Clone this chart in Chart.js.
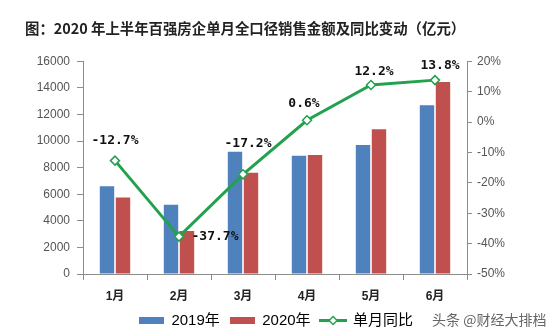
<!DOCTYPE html>
<html>
<head>
<meta charset="utf-8">
<script src="https://cdn.jsdelivr.net/npm/chart.js@4.4.1/dist/chart.umd.min.js"></script>
<style>
  html, body { margin: 0; padding: 0; background: #fff; }
  canvas { display: block; }
</style>
</head>
<body>
<canvas id="salesChart" width="558" height="331"></canvas>
<script>
// categories and series
const months = ['1月', '2月', '3月', '4月', '5月', '6月'];
const sales2019 = [6600, 5200, 9200, 8900, 9700, 12700];
const sales2020 = [5760, 3240, 7620, 8950, 10880, 14450];
const yoyChange = [-12.7, -37.7, -17.2, 0.6, 12.2, 13.8];

const leftTicks = [0, 2000, 4000, 6000, 8000, 10000, 12000, 14000, 16000];
const rightTicks = [-50, -40, -30, -20, -10, 0, 10, 20];

const BLUE = '#4f81bd';
const RED = '#c0504d';
const GREEN = '#22a24e';
const AXIS = '#8c8c8c';
const FONT = '"Liberation Sans", Arial, "Noto Sans CJK SC", sans-serif';

// legend swatches
function swatch(color) {
    const c = document.createElement('canvas');
    c.width = 25; c.height = 7;
    const g = c.getContext('2d');
    g.fillStyle = color;
    g.fillRect(0, 0, 25, 7);
    return c;
}
function lineSwatch(color) {
    const c = document.createElement('canvas');
    c.width = 28; c.height = 11;
    const g = c.getContext('2d');
    g.strokeStyle = color;
    g.lineWidth = 3;
    g.beginPath(); g.moveTo(0, 5.5); g.lineTo(28, 5.5); g.stroke();
    g.fillStyle = '#fff';
    g.lineWidth = 1.5;
    g.beginPath();
    g.moveTo(14, 1.5); g.lineTo(18, 5.5); g.lineTo(14, 9.5); g.lineTo(10, 5.5); g.closePath();
    g.fill(); g.stroke();
    return c;
}

// value labels on the line, nudged off the markers
const labelNudge = [[0, -20], [36, 0], [5, -31], [-3, -17], [3, -13], [5, -14]];
const yoyLabels = {
    id: 'yoyLabels',
    afterDatasetsDraw(chart) {
        const meta = chart.getDatasetMeta(2);
        const ctx = chart.ctx;
        ctx.save();
        ctx.font = 'bold 13px "DejaVu Sans Mono", monospace';
        ctx.fillStyle = '#111';
        ctx.textAlign = 'center';
        ctx.textBaseline = 'middle';
        meta.data.forEach((pt, i) => {
            const v = yoyChange[i];
            ctx.fillText(v.toFixed(1) + '%', pt.x + labelNudge[i][0], pt.y + labelNudge[i][1]);
        });
        ctx.restore();
    },
    afterDraw(chart) {
        const ctx = chart.ctx;
        ctx.save();
        ctx.font = '14px "Noto Sans CJK SC", sans-serif';
        ctx.fillStyle = '#666';
        ctx.textAlign = 'left';
        ctx.textBaseline = 'middle';
        ctx.fillText('头条 @财经大排档', 432, 320);
        ctx.restore();
    }
};

new Chart(document.getElementById('salesChart'), {
    data: {
        labels: months,
        datasets: [
            {
                type: 'bar',
                label: '2019年',
                data: sales2019,
                backgroundColor: BLUE,
                yAxisID: 'y',
                categoryPercentage: 0.5,
                barPercentage: 0.9,
                order: 2
            },
            {
                type: 'bar',
                label: '2020年',
                data: sales2020,
                backgroundColor: RED,
                yAxisID: 'y',
                categoryPercentage: 0.5,
                barPercentage: 0.9,
                order: 2
            },
            {
                type: 'line',
                label: '单月同比',
                data: yoyChange,
                borderColor: GREEN,
                borderWidth: 3,
                backgroundColor: '#fff',
                pointStyle: 'rectRot',
                pointRadius: 4.5,
                pointBorderWidth: 1.5,
                pointBackgroundColor: '#fff',
                pointBorderColor: GREEN,
                tension: 0,
                yAxisID: 'y1',
                order: 1
            }
        ]
    },
    options: {
        responsive: false,
        animation: false,
        maintainAspectRatio: false,
        layout: { padding: { left: 25, right: 31, top: 20, bottom: 0 } },
        plugins: {
            title: {
                display: true,
                text: '图：2020 年上半年百强房企单月全口径销售金额及同比变动（亿元）',
                align: 'start',
                color: '#222',
                font: { family: '"Noto Sans CJK SC", sans-serif', size: 14.4, weight: 'bold' },
                padding: { top: 0, bottom: 24 }
            },
            legend: {
                position: 'bottom',
                maxHeight: 28,
                labels: {
                    usePointStyle: true,
                    pointStyleWidth: 25,
                    padding: 10,
                    color: '#222',
                    font: { family: FONT, size: 15 },
                    generateLabels(chart) {
                        const styles = [swatch(BLUE), swatch(RED), lineSwatch(GREEN)];
                        return chart.data.datasets.map((ds, i) => ({
                            text: ds.label,
                            pointStyle: styles[i],
                            fillStyle: 'transparent',
                            strokeStyle: 'transparent',
                            lineWidth: 0,
                            hidden: false,
                            datasetIndex: i
                        }));
                    }
                }
            },
            tooltip: { enabled: false }
        },
        scales: {
            x: {
                afterFit(axis) { axis.height = 29; },
                grid: { drawOnChartArea: false, color: AXIS, tickLength: 6, offset: true },
                border: { color: AXIS, width: 1 },
                ticks: {
                    color: '#222',
                    padding: 9,
                    maxRotation: 0,
                    autoSkip: false,
                    font: { family: FONT, size: 12, weight: 'bold' }
                }
            },
            y: {
                position: 'left',
                min: 0,
                max: 16000,
                afterBuildTicks(axis) { axis.ticks = leftTicks.map(v => ({ value: v })); },
                afterFit(axis) { axis.width = 58; },
                grid: { drawOnChartArea: false, color: AXIS, tickLength: 6 },
                border: { color: AXIS, width: 1 },
                ticks: {
                    color: '#555',
                    padding: 7,
                    font: { family: FONT, size: 12 },
                    callback: v => String(v)
                }
            },
            y1: {
                position: 'right',
                min: -50,
                max: 20,
                afterBuildTicks(axis) { axis.ticks = rightTicks.map(v => ({ value: v })); },
                afterFit(axis) { axis.width = 60; },
                grid: { drawOnChartArea: false, color: AXIS, tickLength: 5 },
                border: { color: AXIS, width: 1 },
                ticks: {
                    color: '#555',
                    padding: 5,
                    font: { family: FONT, size: 12 },
                    callback: v => v + '%'
                }
            }
        }
    },
    plugins: [yoyLabels]
});
</script>
</body>
</html>
